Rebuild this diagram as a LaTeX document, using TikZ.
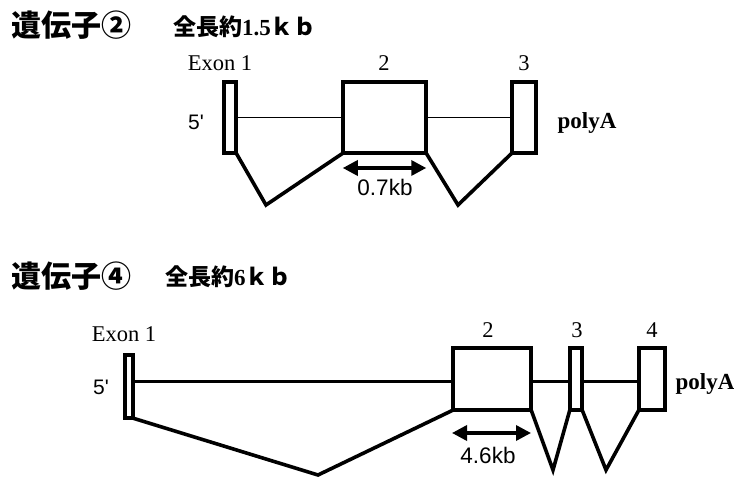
\documentclass[tikz,border=0pt]{standalone}
\usepackage{fontspec}
\setmainfont{Liberation Serif}
\newfontfamily\cjk{Noto Sans CJK JP}
\newfontfamily\arial{Liberation Sans}
\usetikzlibrary{arrows.meta}
\begin{document}
\begin{tikzpicture}[x=1pt,y=-1pt,
  exon/.style={draw, line width=3.8pt, inner sep=0pt, outer sep=0pt},
  intronA/.style={line width=1.5pt},
  intronB/.style={line width=3pt},
  splice/.style={line width=3.6pt, line join=miter},
  sizebar/.style={line width=3.4pt, {Triangle[length=15pt,width=15pt]}-{Triangle[length=15pt,width=15pt]}},
  title/.style={anchor=base west, inner sep=0pt, font=\cjk\bfseries\fontsize{30}{30}\selectfont},
  subtitle/.style={anchor=base west, inner sep=0pt, font=\cjk\bfseries\fontsize{23}{23}\selectfont},
  lbl/.style={anchor=base, inner sep=0pt, font=\fontsize{22.5}{22.5}\selectfont},
  five/.style={anchor=base, inner sep=0pt, font=\arial\fontsize{21}{21}\selectfont},
  kb/.style={anchor=base, inner sep=0pt, font=\arial\fontsize{22.5}{22.5}\selectfont},
  polya/.style={anchor=base, inner sep=0pt, font=\bfseries\fontsize{23}{23}\selectfont}]
\useasboundingbox (0,0) rectangle (734,478);

% ---------- Gene 2 ----------
\node[title] (t1) at (11,36.5) {遺伝子②};
\node[subtitle] (s1) at (173,36) {全長約{\rmfamily\bfseries\fontsize{23}{23}\selectfont 1.5}ｋｂ};

\node[exon, minimum width=12.5pt, minimum height=71.5pt] (a1) at (230,117.5) {};
\node[exon, minimum width=83.5pt, minimum height=71.5pt] (a2) at (384.5,117.5) {};
\node[exon, minimum width=24.5pt, minimum height=71.5pt] (a3) at (524,117.5) {};

\draw[intronA] (a1.east) -- (a2.west);
\draw[intronA] (a2.east) -- (a3.west);

\coordinate (va1) at (266,205);
\coordinate (va2) at (458,205);
\draw[splice] (a1.south east) -- (va1) -- (a2.south west);
\draw[splice] (a2.south east) -- (va2) -- (a3.south west);

\coordinate (ar1) at (a2.south west |- 0,168);
\coordinate (ar2) at (a2.south east |- 0,168);
\draw[sizebar] (ar1) -- (ar2);
\node[kb] (k1) at (385,196) {0.7kb};

\node[lbl] (ex1a) at (220,71) {Exon 1};
\node[lbl] (n2a) at (384,71) {2};
\node[lbl] (n3a) at (524,71) {3};
\node[five] (f1) at (196,130) {5'};
\node[polya] (p1) at (587,129) {polyA};

% ---------- Gene 4 ----------
\node[title] (t2) at (11,287.5) {遺伝子④};
\node[subtitle] (s2) at (165,286) {全長約{\rmfamily\bfseries\fontsize{23}{23}\selectfont 6}ｋｂ};

\node[exon, minimum width=8.5pt, minimum height=63.5pt] (b1) at (129,386.5) {};
\node[exon, minimum width=78.5pt, minimum height=62.5pt] (b2) at (492,379) {};
\node[exon, minimum width=12.5pt, minimum height=62.5pt] (b3) at (576,379) {};
\node[exon, minimum width=26.5pt, minimum height=62.5pt] (b4) at (652,379) {};

\coordinate (ly) at (0,382);
\draw[intronB] (b1.east |- ly) -- (b2.west |- ly);
\draw[intronB] (b2.east |- ly) -- (b3.west |- ly);
\draw[intronB] (b3.east |- ly) -- (b4.west |- ly);

\coordinate (vb1) at (318,475);
\coordinate (vb2) at (553,470);
\coordinate (vb3) at (606,470);
\draw[splice] (b1.south east) -- (vb1) -- (b2.south west);
\draw[splice] (b2.south east) -- (vb2) -- (b3.south west);
\draw[splice] (b3.south east) -- (vb3) -- (b4.south west);

\coordinate (br1) at (452,433);
\coordinate (br2) at (531,433);
\draw[sizebar] (br1) -- (br2);
\node[kb] (k2) at (488,463) {4.6kb};

\node[lbl] (ex1b) at (124,342) {Exon 1};
\node[lbl] (n2b) at (488,338) {2};
\node[lbl] (n3b) at (577,338) {3};
\node[lbl] (n4b) at (652,338) {4};
\node[five] (f2) at (101,395) {5'};
\node[polya] (p2) at (705,389) {polyA};
\end{tikzpicture}
\end{document}
